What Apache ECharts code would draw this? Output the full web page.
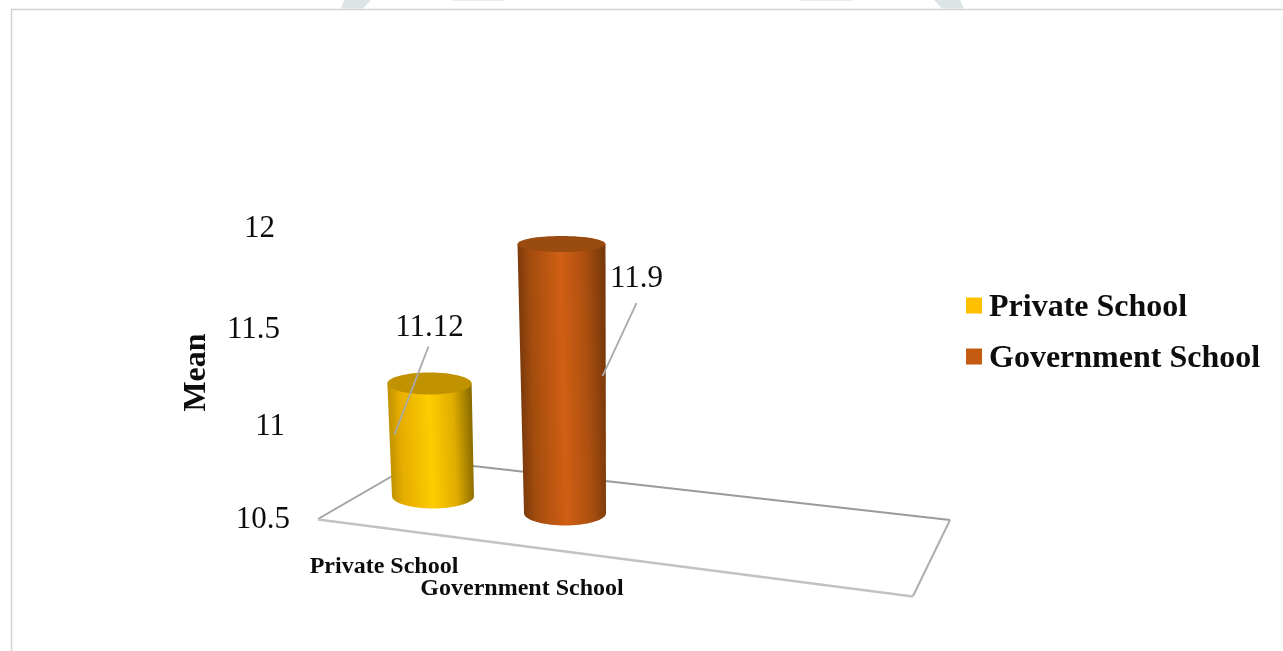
<!DOCTYPE html>
<html>
<head>
<meta charset="utf-8">
<style>html,body{margin:0;padding:0;background:#fff}#chart{width:1283px;height:651px}</style>
<script src="https://cdn.jsdelivr.net/npm/echarts@6/dist/echarts.min.js"></script>
</head>
<body>
<div id="chart"></div>
<script>
// Chart values
const categories = ['Private School', 'Government School'];
const privateSchool = [['Private School', 11.12]];
const governmentSchool = [['Government School', 11.9]];
const tickLabels = [10.5, 11, 11.5, 12];
const axisTitle = 'Mean';

// Text and shading
const SERIF = '"Liberation Serif","Times New Roman",serif';
const INK = '#0d0d0d';
const LEADER = '#a9a9a9';
const shades = {
  'Private School': { key: '#ffc000', stops: ['#c29300', '#e6ad00', '#ffcc00', '#e0ac00', '#8a6c00'], cap: '#c09200' },
  'Government School': { key: '#c55a11', stops: ['#7c3a0c', '#a34c0e', '#d05f13', '#ad5010', '#7a390b'], cap: '#9a4b0f' }
};
const stopOffsets = [0, 0.14, 0.5, 0.78, 1];

// Callout and category label placement, relative to each cylinder
const placement = {
  'Private School': { label: [0, -56], leader: [[-1, -37], [-35, 51]], name: [-49, 71] },
  'Government School': { label: [75, 35], leader: [[75, 59], [41, 132]], name: [-43, 76] }
};

// Oblique projection of the chart box: the floor runs downhill to the right and
// vertical units shrink slightly towards the front-left of the box.
const FLOOR_SLOPE = 0.1288;
const FLOOR_PIVOT = 604;
const BASE_RADIUS = 41;
const depthScale = x => 0.935 + (x - 433) * 0.000417;
const radiusX = y => 44 - (y - 244) * 0.0135;
const radiusY = y => Math.min(12.5, 8 + (y - 244) * 0.0214);

function cylinder(params, api) {
  const name = categories[api.value(0)];
  const value = api.value(1);
  const s = shades[name];
  const p = placement[name];
  const axisBase = api.coord([api.value(0), 10.5]);
  const axisTop = api.coord([api.value(0), value]);
  const bx = axisBase[0];
  const by = axisBase[1] + FLOOR_SLOPE * (bx - FLOOR_PIVOT);
  const tx = bx - 3.5;
  const ty = by - (axisBase[1] - axisTop[1]) * depthScale(bx);
  const trx = radiusX(ty), topRy = radiusY(ty), bry = radiusY(by);

  const outline = [[tx - trx, ty]];
  for (let i = 0; i <= 36; i++) {
    const a = Math.PI - (Math.PI * i) / 36;
    outline.push([bx + BASE_RADIUS * Math.cos(a), by + bry * Math.sin(a)]);
  }
  outline.push([tx + trx, ty]);

  // Shading bands run parallel to the leaning left side of the body
  const lean = (bx - BASE_RADIUS - (tx - trx)) / (by - ty);
  const midY = (ty + by) / 2;
  const x0 = (tx - trx + bx - BASE_RADIUS) / 2;
  const span = (trx + BASE_RADIUS) / (1 + lean * lean);
  const shade = new echarts.graphic.LinearGradient(
    x0, midY, x0 + span, midY - span * lean,
    s.stops.map((color, i) => ({ offset: stopOffsets[i], color })),
    true
  );

  return {
    type: 'group',
    children: [
      { type: 'polygon', shape: { points: outline }, style: { fill: shade } },
      { type: 'ellipse', shape: { cx: tx, cy: ty, rx: trx, ry: topRy }, style: { fill: s.cap } },
      {
        type: 'line',
        shape: {
          x1: tx + p.leader[0][0], y1: ty + p.leader[0][1],
          x2: tx + p.leader[1][0], y2: ty + p.leader[1][1]
        },
        style: { stroke: LEADER, lineWidth: 1.8 }
      },
      {
        type: 'text',
        style: {
          text: String(value), x: tx + p.label[0], y: ty + p.label[1],
          font: '31px ' + SERIF, fill: INK, align: 'center', verticalAlign: 'middle'
        }
      },
      {
        type: 'text',
        style: {
          text: name, x: bx + p.name[0], y: by + p.name[1],
          font: 'bold 24px ' + SERIF, fill: INK, align: 'center', verticalAlign: 'middle'
        }
      }
    ]
  };
}

// Value labels follow the receding left wall of the box
function wallTick(params, api) {
  const v = api.value(0);
  const t = (v - 10.5) / 1.5;
  const y = api.coord(['Private School', v])[1] + 18 * t * (1 - t) + 2;
  return {
    type: 'text',
    style: {
      text: String(v), x: 290 - 15 * t, y: y,
      font: '31px ' + SERIF, fill: INK, align: 'right', verticalAlign: 'middle'
    }
  };
}

const chart = echarts.init(document.getElementById('chart'), null, { renderer: 'canvas' });

const edge = (x1, y1, x2, y2, stroke, lineWidth) => ({
  type: 'line', z: 1, shape: { x1, y1, x2, y2 }, style: { stroke, lineWidth }
});

chart.setOption({
  animation: false,
  backgroundColor: '#ffffff',
  grid: { left: 367, top: 227, width: 264, height: 291 },
  xAxis: {
    type: 'category',
    data: categories,
    axisLine: { show: false }, axisTick: { show: false }, axisLabel: { show: false }
  },
  yAxis: {
    type: 'value',
    min: 10.5, max: 12, interval: 0.5,
    name: axisTitle,
    nameLocation: 'middle',
    nameGap: 154,
    nameTextStyle: { fontFamily: SERIF, fontWeight: 'bold', fontSize: 32, color: INK },
    axisLine: { show: false }, axisTick: { show: false }, axisLabel: { show: false }, splitLine: { show: false }
  },
  legend: {
    left: 961,
    top: 282.5,
    orient: 'vertical',
    itemWidth: 16,
    itemHeight: 16,
    itemGap: 15,
    data: categories.map(name => ({ name, icon: 'rect', itemStyle: { color: shades[name].key } })),
    formatter: '{entry|{name}}',
    textStyle: {
      rich: {
        entry: { fontFamily: SERIF, fontWeight: 'bold', fontSize: 32, color: INK, lineHeight: 37, padding: [4, 0, 0, 2] }
      }
    }
  },
  series: [
    {
      name: 'Private School', type: 'custom', z: 3, renderItem: cylinder,
      itemStyle: { color: shades['Private School'].key },
      encode: { x: 0, y: 1 }, data: privateSchool
    },
    {
      name: 'Government School', type: 'custom', z: 4, renderItem: cylinder,
      itemStyle: { color: shades['Government School'].key },
      encode: { x: 0, y: 1 }, data: governmentSchool
    },
    {
      name: 'Value labels', type: 'custom', z: 5, renderItem: wallTick,
      encode: { y: 0 }, data: tickLabels.map(v => [v])
    }
  ],
  graphic: [
    // Panel frame
    edge(11, 9.5, 1283, 9.5, '#d2d2d2', 1.5),
    edge(11.5, 9, 11.5, 651, '#d2d2d2', 1.5),
    // Page artwork showing above the panel
    { type: 'polygon', z: 0, shape: { points: [[344, 0], [371, 0], [363, 8.5], [341, 8.5]] }, style: { fill: '#dde4e6' } },
    { type: 'polygon', z: 0, shape: { points: [[934, 0], [960, 0], [964, 8.5], [942, 8.5]] }, style: { fill: '#dde4e6' } },
    { type: 'rect', z: 0, shape: { x: 452, y: 0, width: 53, height: 1 }, style: { fill: '#e8eded' } },
    { type: 'rect', z: 0, shape: { x: 800, y: 0, width: 53, height: 1 }, style: { fill: '#e8eded' } },
    // Floor of the chart box
    { type: 'polygon', z: 1, shape: { points: [[420, 460], [950, 520], [913, 596], [318, 519]] }, style: { fill: '#ffffff' } },
    edge(420, 460, 950, 520, '#9a9a9a', 2),
    edge(420, 460, 318, 519, '#a2a2a2', 2),
    edge(318, 519.5, 913, 596.5, '#c2c2c2', 2.5),
    edge(950, 520, 913, 596, '#aeaeae', 2)
  ]
});
</script>
</body>
</html>
